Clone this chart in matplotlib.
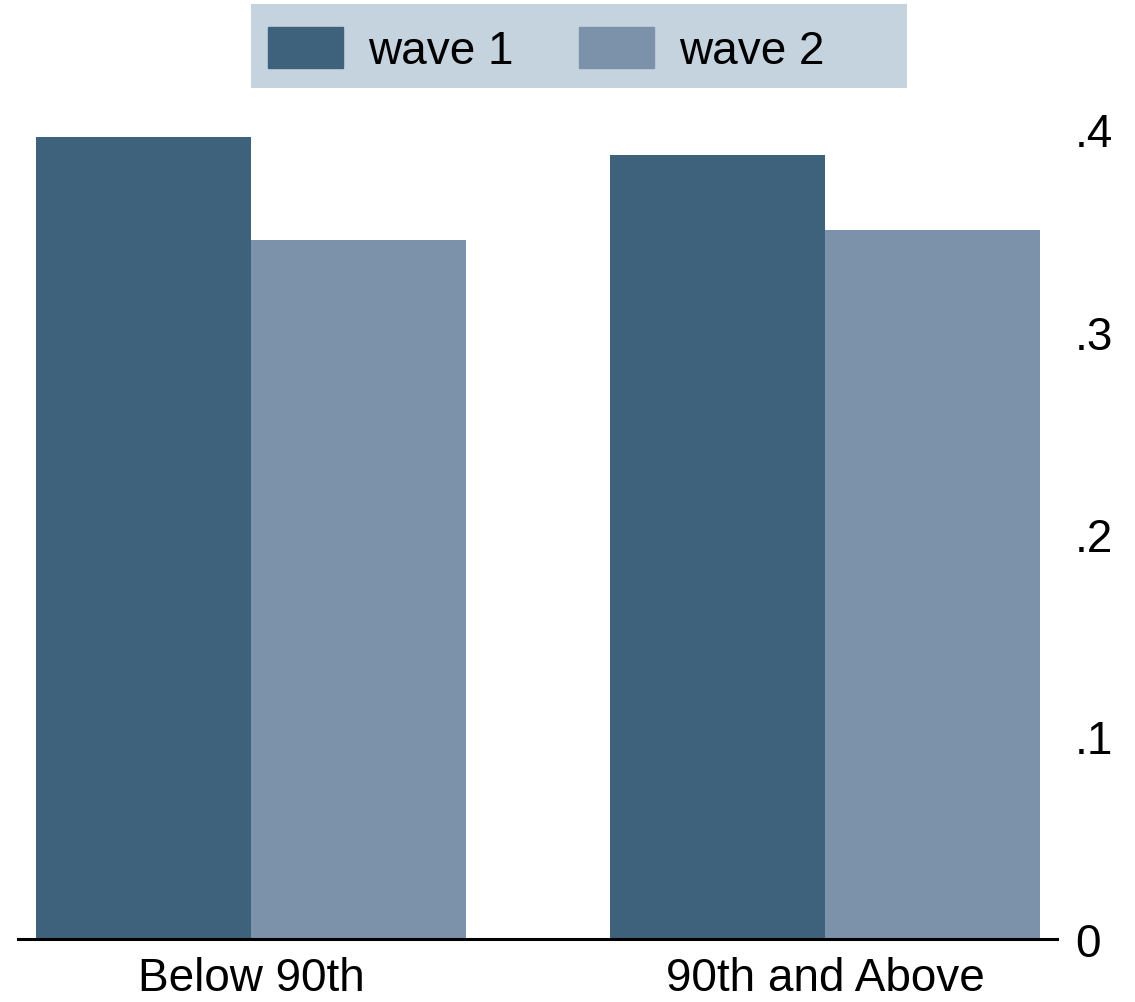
import numpy as np
import matplotlib.pyplot as plt
from matplotlib.patches import Patch, Rectangle

groups = ["Below 90th", "90th and Above"]
wave1 = [0.396, 0.387]
wave2 = [0.345, 0.350]
series_names = ["wave 1", "wave 2"]
yticks = [0, 0.1, 0.2, 0.3, 0.4]
ytick_labels = ["0", ".1", ".2", ".3", ".4"]

c1 = "#3e627c"
c2 = "#7b92aa"
legend_bg = "#c5d3df"

plt.rcParams['font.family'] = ['Liberation Sans', 'DejaVu Sans']

W, H = 1135, 1003
fig = plt.figure(figsize=(W/100, H/100), dpi=100)
ax = fig.add_axes([18/W, 63/H, (1057-18)/W, (940-89.5)/H])

x = np.arange(len(groups))
w = 0.3746
ax.bar(x - w/2, wave1, width=w, color=c1, label=series_names[0])
ax.bar(x + w/2, wave2, width=w, color=c2, label=series_names[1])

ax.set_xlim(-0.406, 1.404)
ax.set_ylim(0, 0.42)
ax.set_xticks(x)
ax.set_xticklabels(groups, fontsize=33)
ax.yaxis.tick_right()
ax.set_yticks(yticks)
ax.set_yticklabels(ytick_labels, fontsize=33)
ax.tick_params(axis='y', length=0, pad=13)
ax.tick_params(axis='x', length=0, pad=12)

for s in ["top", "left", "right"]:
    ax.spines[s].set_visible(False)
ax.spines["bottom"].set_linewidth(2.2)

# legend box (wider than its content, like the original)
fig.patches.append(Rectangle((251/W, 1 - 89/H), (907-251)/W, 84/H,
                             transform=fig.transFigure, facecolor=legend_bg,
                             edgecolor="none", zorder=0))

handles = [Patch(color=c1), Patch(color=c2)]
fig.legend(handles, series_names, loc="center left", ncol=2,
           bbox_to_anchor=(268/W, 1 - 51/H), fontsize=33,
           frameon=False, borderpad=0, borderaxespad=0,
           handlelength=1.64, handleheight=1.0, handletextpad=0.55,
           columnspacing=1.42)

fig.savefig("out.png", dpi=100)
